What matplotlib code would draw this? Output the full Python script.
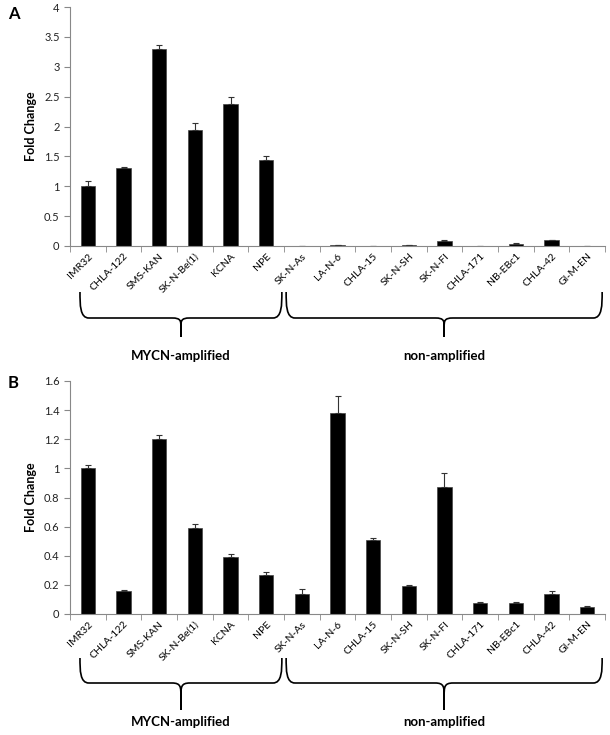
import matplotlib.pyplot as plt
import matplotlib.transforms as mtransforms
from matplotlib.path import Path
from matplotlib.patches import PathPatch
import numpy as np

plt.rcParams['font.family'] = ['Lato', 'DejaVu Sans']

cell_lines = ['IMR32', 'CHLA-122', 'SMS-KAN', 'SK-N-Be(1)', 'KCNA', 'NPE',
              'SK-N-As', 'LA-N-6', 'CHLA-15', 'SK-N-SH', 'SK-N-FI', 'CHLA-171',
              'NB-EBc1', 'CHLA-42', 'GI-M-EN']

# panel A
fold_a = [1.0, 1.31, 3.29, 1.94, 2.38, 1.44,
          0.003, 0.02, 0.005, 0.015, 0.085, 0.002, 0.035, 0.095, 0.002]
err_a = [0.09, 0.02, 0.08, 0.12, 0.11, 0.07,
         0.0, 0.005, 0.0, 0.003, 0.01, 0.0, 0.008, 0.005, 0.0]

# panel B
fold_b = [1.0, 0.155, 1.2, 0.59, 0.39, 0.27,
          0.14, 1.38, 0.51, 0.19, 0.875, 0.075, 0.078, 0.135, 0.048]
err_b = [0.02, 0.01, 0.03, 0.03, 0.025, 0.015,
         0.035, 0.12, 0.015, 0.012, 0.09, 0.008, 0.006, 0.02, 0.006]

groups = ['MYCN-amplified', 'non-amplified']
group_spans = [(-0.22, 5.44), (5.56, 14.42)]

fig = plt.figure(figsize=(6.1, 7.35), dpi=100)


def px(y):
    # figure pixel row -> figure fraction
    return 1 - y / 735


def brace(ax, x0, x1, y_top, y_mid, y_tip):
    trans = mtransforms.blended_transform_factory(ax.transData, fig.transFigure)
    xc = (x0 + x1) / 2
    r = 0.25
    dy = (y_top - y_mid) * 0.5
    dt = (y_mid - y_tip) * 0.5
    verts = [(x0, y_top), (x0, y_mid + dy), (x0, y_mid), (x0 + r, y_mid),
             (xc - r, y_mid),
             (xc, y_mid), (xc, y_mid - dt * 0.3), (xc, y_mid - dt),
             (xc, y_tip),
             (xc, y_mid - dt),
             (xc, y_mid - dt * 0.3), (xc, y_mid), (xc + r, y_mid),
             (x1 - r, y_mid),
             (x1, y_mid), (x1, y_mid + dy), (x1, y_top)]
    codes = [Path.MOVETO, Path.CURVE4, Path.CURVE4, Path.CURVE4,
             Path.LINETO,
             Path.CURVE4, Path.CURVE4, Path.CURVE4,
             Path.LINETO,
             Path.LINETO,
             Path.CURVE4, Path.CURVE4, Path.CURVE4,
             Path.LINETO,
             Path.CURVE4, Path.CURVE4, Path.CURVE4]
    ax.add_patch(PathPatch(Path(verts, codes), transform=trans, fill=False,
                           edgecolor='black', lw=1.2, clip_on=False))


def draw_panel(rect, vals, errs, ymax, ystep, letter, brace_rows):
    ax = fig.add_axes(rect)
    x = np.arange(len(cell_lines))
    ax.bar(x, vals, width=0.4, color='black', edgecolor='#444444', linewidth=0.5,
           yerr=[np.zeros(len(errs)), errs], capsize=2,
           error_kw=dict(ecolor='#333333', elinewidth=0.8, capthick=0.8))
    ax.set_xlim(-0.5, len(cell_lines) - 0.5)
    ax.set_ylim(0, ymax)
    ticks = np.arange(0, ymax + ystep / 2, ystep)
    ax.set_yticks(ticks)
    ax.set_yticklabels([f'{v:g}' for v in ticks])
    ax.set_xticks(x)
    ax.set_xticklabels(cell_lines, rotation=45, ha='right', rotation_mode='anchor')
    ax.set_xticks(np.arange(-0.5, len(cell_lines)), minor=True)
    ax.tick_params(axis='x', which='major', length=0, labelsize=7.5, pad=4)
    ax.tick_params(axis='x', which='minor', length=4, color='#888888', direction='out')
    ax.tick_params(axis='y', length=4, color='#888888', labelsize=8, labelcolor='#222222')
    for s in ['top', 'right']:
        ax.spines[s].set_visible(False)
    for s in ['left', 'bottom']:
        ax.spines[s].set_color('#888888')
        ax.spines[s].set_linewidth(0.8)
    ax.set_ylabel('Fold Change', fontsize=9, fontweight='bold', labelpad=5)
    fig.text(8 / 610, px(brace_rows[4]), letter, fontsize=12, fontweight='bold',
             va='center', ha='left')
    y_top, y_mid, y_tip, y_txt = brace_rows[:4]
    trans = mtransforms.blended_transform_factory(ax.transData, fig.transFigure)
    for name, (g0, g1) in zip(groups, group_spans):
        brace(ax, g0, g1, px(y_top), px(y_mid), px(y_tip))
        ax.text((g0 + g1) / 2, px(y_txt), name, transform=trans, ha='center',
                va='center', fontsize=9.5, fontweight='bold')
    return ax


draw_panel([70 / 610, px(246), 535 / 610, (246 - 7) / 735], fold_a, err_a, 4, 0.5, 'A',
           (292, 318, 337, 356, 14))
draw_panel([70 / 610, px(614), 535 / 610, (614 - 381) / 735], fold_b, err_b, 1.6, 0.2, 'B',
           (658, 683, 710, 722, 383))

fig.savefig('out.png', dpi=100)
